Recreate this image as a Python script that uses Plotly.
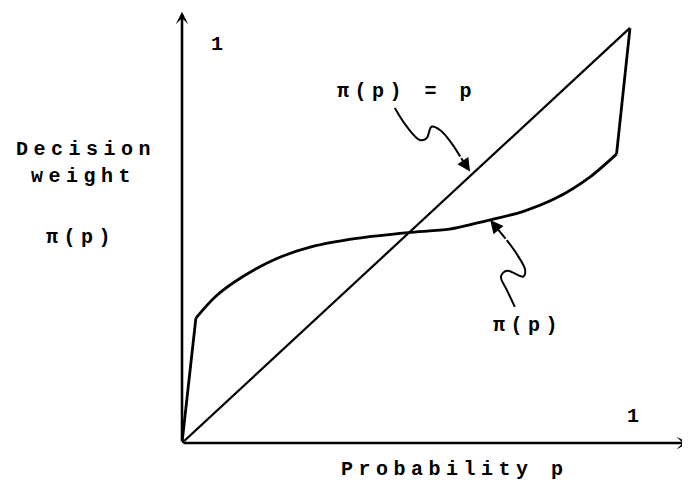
import plotly.graph_objects as go

# probability p and decision weight pi(p)
prob = [0.0, 0.031, 0.075, 0.136, 0.213, 0.290, 0.390, 0.505, 0.597, 0.682, 0.759, 0.835, 0.912, 0.970, 1.0]
weight = [0.0, 0.301, 0.353, 0.401, 0.445, 0.473, 0.493, 0.507, 0.515, 0.536, 0.557, 0.590, 0.642, 0.696, 0.999]

diag_p = [0.0, 1.0]
diag_w = [0.0, 1.0]

# squiggly pointer lines (last point is the arrow tip)
upper_ptr_p = [0.475, 0.502, 0.531, 0.546, 0.557, 0.576, 0.602, 0.621, 0.643]
upper_ptr_w = [0.807, 0.762, 0.730, 0.734, 0.762, 0.754, 0.722, 0.690, 0.654]
lower_ptr_p = [0.743, 0.725, 0.712, 0.725, 0.762, 0.766, 0.751, 0.725, 0.688]
lower_ptr_w = [0.328, 0.369, 0.401, 0.415, 0.401, 0.417, 0.449, 0.489, 0.537]

x_axis_end = 1.132
y_axis_end = 1.039
x_range = [0, 1.134]
y_range = [0, 1.048]

FONT = "Liberation Mono, Courier New, monospace"
GAP = 5.5


def spaced(s, gap=GAP):
    return f'<span style="letter-spacing:{gap}px">{s}</span>'


fig = go.Figure()
line = dict(color="black", width=2.8)

# steep end pieces linear, middle smooth
fig.add_trace(go.Scatter(x=prob[:2], y=weight[:2], mode="lines", line=line))
fig.add_trace(go.Scatter(x=prob[1:-1], y=weight[1:-1], mode="lines",
                         line=dict(line, shape="spline", smoothing=0.8)))
fig.add_trace(go.Scatter(x=prob[-2:], y=weight[-2:], mode="lines", line=line))
fig.add_trace(go.Scatter(x=diag_p, y=diag_w, mode="lines", line=dict(color="black", width=2.2)))

for px_, pw_ in [(upper_ptr_p, upper_ptr_w), (lower_ptr_p, lower_ptr_w)]:
    fig.add_trace(go.Scatter(x=px_[:-1], y=pw_[:-1], mode="lines",
                             line=dict(color="black", width=2, shape="spline", smoothing=1)))
    fig.add_annotation(x=px_[-1], y=pw_[-1], ax=px_[-2], ay=pw_[-2],
                       xref="x", yref="y", axref="x", ayref="y", text="",
                       showarrow=True, arrowhead=2, arrowsize=1.3, arrowwidth=2,
                       arrowcolor="black", standoff=0)

# axes with arrow heads
fig.add_annotation(x=x_axis_end, y=0, ax=0, ay=0, xref="x", yref="y", axref="x", ayref="y",
                   text="", showarrow=True, arrowhead=3, arrowsize=0.8, arrowwidth=2.6,
                   arrowcolor="black", standoff=0)
fig.add_annotation(x=0, y=y_axis_end, ax=0, ay=0, xref="x", yref="y", axref="x", ayref="y",
                   text="", showarrow=True, arrowhead=3, arrowsize=0.8, arrowwidth=2.6,
                   arrowcolor="black", standoff=0)

labels = [
    ("1", 0.078, 0.96),
    ("1", 1.007, 0.063),
    ("\u03c0(p) = p", 0.496, 0.848),
    ("\u03c0(p)", 0.766, 0.284),
    ("Decision", -0.220, 0.706),
    ("weight", -0.226, 0.641),
    ("\u03c0(p)", -0.232, 0.496),
    ("Probability p", 0.603, -0.065),
]
# paper coords so labels outside the axes still show
for txt, lx, ly in labels:
    fig.add_annotation(x=lx / x_range[1], y=ly / y_range[1], xref="paper", yref="paper",
                       text=spaced(txt), showarrow=False, xshift=GAP / 2,
                       font=dict(family=FONT, size=20, color="black", weight="bold"),
                       xanchor="center", yanchor="middle")

fig.update_xaxes(range=x_range, visible=False)
fig.update_yaxes(range=y_range, visible=False)
# page body adds an 8px offset, so the figure is 8px smaller than the window
fig.update_layout(
    width=682, height=480,
    margin=dict(l=174, r=0, t=0, b=45),
    plot_bgcolor="white", paper_bgcolor="white",
    showlegend=False,
)
fig.write_html("out.html")
